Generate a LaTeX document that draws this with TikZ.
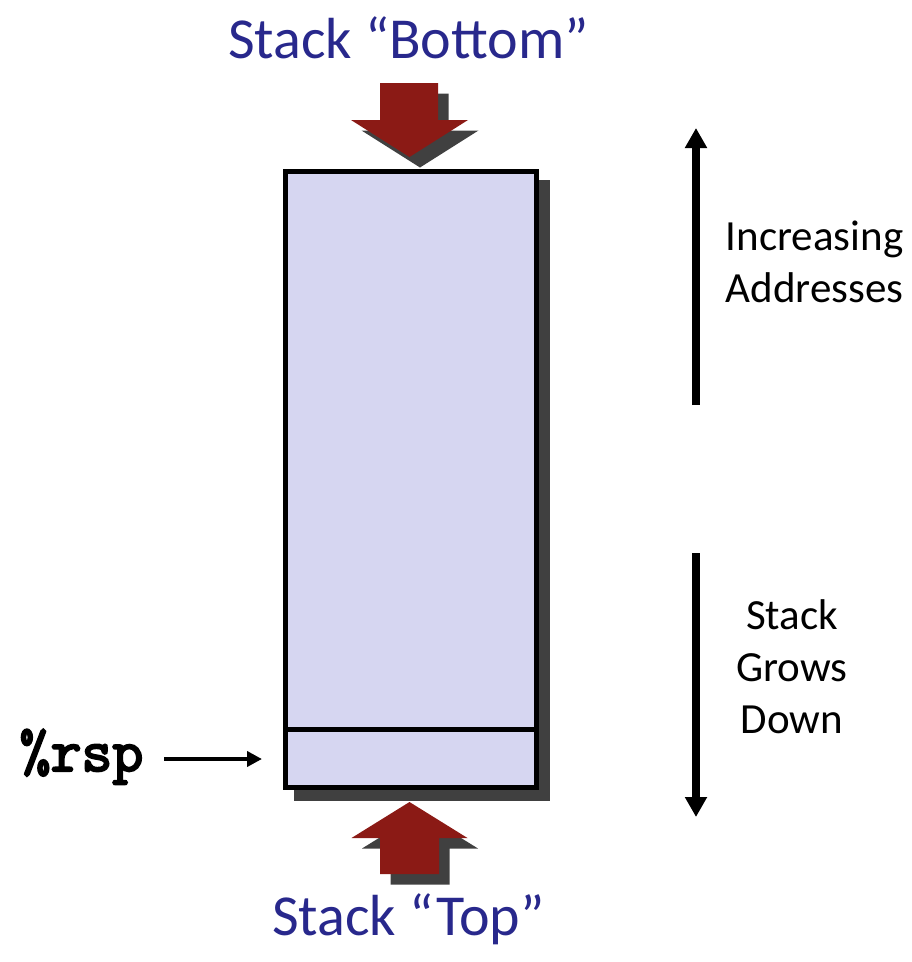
\documentclass[tikz,border=0pt]{standalone}
\usepackage{fontspec}
\setmainfont{Carlito}
\newfontfamily\codefont[FakeBold=3.5]{Latin Modern Mono}
\usetikzlibrary{arrows.meta}
\definecolor{titleblue}{RGB}{40,40,140}
\definecolor{arrowred}{RGB}{139,26,21}
\definecolor{shadowgray}{RGB}{64,64,64}
\definecolor{stackfill}{RGB}{214,214,241}
\tikzset{
  stacklabel/.style={text=titleblue, font=\fontsize{58}{70}\selectfont, inner sep=0pt, anchor=base},
  sidetext/.style={font=\fontsize{43}{51.6}\selectfont, align=center, inner sep=0pt, anchor=base},
  codelabel/.style={font={\fontsize{60}{64}\codefont}, anchor=base, inner sep=0pt},
  blockarrow/.style={fill=arrowred},
  blockshadow/.style={fill=shadowgray},
  stackbox/.style={draw=black, line width=5pt, fill=stackfill, rectangle, inner sep=0pt, minimum width=251pt, minimum height=616pt},
  boxshadow/.style={fill=shadowgray, rectangle, inner sep=0pt, minimum width=256pt, minimum height=621pt},
  dirarrow/.style={line width=7.7pt, -{Triangle[length=20pt,width=21pt]}},
  ptrarrow/.style={line width=4pt, -{Triangle[length=15pt,width=15pt]}},
}
\begin{document}
\begin{tikzpicture}[x=1pt,y=-1pt]
\useasboundingbox (0,0) rectangle (912,962);
% stack box with shadow
\node[boxshadow] (stackshadow) at (421.5,490) {};
\node[stackbox] (stack) at (411,479.5) {};
\coordinate (divL) at (285.5,729);
\coordinate (divR) at (536.5,729);
\draw[line width=5pt] (divL) -- (divR);
% top block arrow
\fill[blockshadow, shift={(10.5,10.5)}] (380,83) -- (438,83) -- (438,120) -- (468,120) -- (409.5,157) -- (351,120) -- (380,120) -- cycle;
\fill[blockarrow] (380,83) -- (438,83) -- (438,120) -- (468,120) -- (409.5,157) -- (351,120) -- (380,120) -- cycle;
% bottom block arrow
\fill[blockshadow, shift={(10.5,10.5)}] (409.5,802) -- (467.5,838) -- (439,838) -- (439,874) -- (380,874) -- (380,838) -- (351.5,838) -- cycle;
\fill[blockarrow] (409.5,802) -- (467.5,838) -- (439,838) -- (439,874) -- (380,874) -- (380,838) -- (351.5,838) -- cycle;
% labels
\node[stacklabel] (bottomlbl) at (408.5,58) {Stack “Bottom”};
\node[stacklabel] (toplbl) at (408.5,935) {Stack “Top”};
\node[sidetext] (incr) at (814.5,302) {Increasing\\Addresses};
\node[sidetext] (grows) at (792,733) {Stack\\Grows\\Down};
% direction arrows
\coordinate (upS) at (696,405);
\coordinate (upE) at (696,128);
\coordinate (dnS) at (696,553);
\coordinate (dnE) at (696,817);
\draw[dirarrow] (upS) -- (upE);
\draw[dirarrow] (dnS) -- (dnE);
% rsp pointer
\node[codelabel] (rsp) at (81.5,771) {\%rsp};
\coordinate (ptrstart) at (164,759);
\coordinate (ptrend) at (262,759);
\draw[ptrarrow] (ptrstart) -- (ptrend);
\end{tikzpicture}
\end{document}
